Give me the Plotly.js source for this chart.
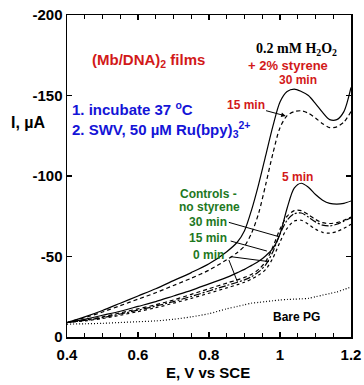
<!DOCTYPE html>
<html>
<head>
<meta charset="utf-8">
<script src="https://cdn.plot.ly/plotly-3.0.1.min.js"></script>
<style>html,body{margin:0;padding:0;background:#fff;}#chart{width:364px;height:385px;}</style>
</head>
<body>
<div id="chart"></div>
<script>
// Potential, V vs SCE
const potential = [0.40,0.45,0.50,0.55,0.60,0.65,0.70,0.75,0.80,0.85,0.88,0.90,0.92,0.94,0.96,0.98,1.00,1.02,1.04,1.06,1.08,1.10,1.12,1.14,1.16,1.18,1.20];
// Currents, µA
const styrene30 = [-9,-12.5,-16.5,-21,-25.5,-30,-35,-40,-45.5,-53,-59,-66,-79,-95,-113,-131,-146,-152.5,-154,-152.5,-150,-145,-139.5,-135,-135,-140,-155];
const styrene15 = [-9,-12,-15.5,-19.5,-23.5,-27.5,-32,-36.5,-41.5,-48,-52.5,-56.5,-64.5,-77,-95,-114,-130,-137.5,-140,-140.5,-139,-136,-132.5,-130,-130.5,-133.5,-140];
const styrene5 = [-9,-11,-13.5,-16,-19,-22,-25.5,-29,-33,-37,-40,-42,-44.5,-47,-50.5,-55,-64,-80,-92.5,-95.5,-93,-88.5,-85,-83,-82.5,-83,-84.5];
const control30 = [-9,-10.5,-12.5,-15,-17.5,-20,-23,-26.5,-30,-33.5,-35.5,-37,-39,-42,-47,-56,-67,-75,-78.5,-78.5,-76,-73,-71,-70.5,-71,-72.5,-74.5];
const control15 = [-9,-10.3,-12,-14.3,-16.7,-19.2,-22,-25.2,-28.6,-32,-34,-35.5,-37.5,-40.5,-45,-53,-64,-72.5,-76.5,-77,-74.5,-71.5,-69.5,-69,-70,-72,-74];
const control0 = [-9,-10,-11.5,-13.5,-15.8,-18.2,-21,-24,-27.2,-30.5,-32.5,-34,-36,-38.5,-42,-49,-59,-67.5,-72,-72.5,-70,-67,-65,-64.5,-65.5,-67.5,-70];
const barePG = [-8,-8.2,-8.5,-9,-9.5,-10,-11,-12.5,-14.5,-17.5,-19,-20,-21,-21.5,-22,-22.5,-23,-23.3,-23.5,-23.7,-24,-25,-26,-27,-28,-29.5,-31];

const xTickVals = [0.4,0.6,0.8,1.0,1.2];
const xTickText = ['0.4','0.6','0.8','1','1.2'];
const yTickVals = [0,-50,-100,-150,-200];
const yTickText = ['0','-50','-100','-150','-200'];

// leader lines for control labels [x0,y0,x1,y1]
const leaders = [
  [0.856,-71.2,0.997,-62.3],
  [0.861,-59.6,0.963,-53.4],
  [0.861,-49.9,0.969,-46.8],
  [0.856,-47.8,0.880,-34.3]
];

const FONT = 'Liberation Sans, Arial, sans-serif';
const RED = 'rgb(210,25,25)';
const BLUE = 'rgb(20,20,215)';
const GREEN = 'rgb(30,120,30)';

function tr(y, dash){
  return {x: potential, y: y, type:'scatter', mode:'lines',
    line:{color:'black', width:1.2, dash:dash, shape:'spline', smoothing:0.8},
    hoverinfo:'skip', showlegend:false};
}
const data = [
  tr(styrene30,'solid'),
  tr(styrene15,'4px,3px'),
  tr(styrene5,'solid'),
  tr(control30,'4px,3px'),
  tr(control15,'7px,2px,2px,2px'),
  tr(control0,'3px,3px'),
  tr(barePG,'1px,2px')
];

function txt(x,y,text,color,size,opts){
  return Object.assign({x:x,y:y,xref:'x',yref:'y',text:text,showarrow:false,
    font:{family:FONT,size:size,color:color},xanchor:'center',yanchor:'middle'},opts||{});
}
const annotations = [
  txt(0.629,-172,'<b>(Mb/DNA)<sub>2</sub> films</b>',RED,15),
  txt(0.408,-142.2,'<b>1. incubate 37 <sup>o</sup>C</b>',BLUE,15,{xanchor:'left'}),
  txt(0.408,-128.6,'<b>2. SWV, 50 µM Ru(bpy)<sub>3</sub><sup>2+</sup></b>',BLUE,15,{xanchor:'left'}),
  txt(1.047,-178.5,'<b>0.2 mM H<sub>2</sub>O<sub>2</sub></b>','black',14,{font:{family:'Liberation Serif, Times New Roman, serif',size:14,color:'black'}}),
  txt(1.022,-168.5,'<b>+ 2% styrene</b>',RED,13),
  txt(1.05,-159.6,'<b>30 min</b>',RED,12),
  txt(1.05,-99.4,'<b>5 min</b>',RED,12),
  txt(0.799,-88.8,'<b>Controls -</b>',GREEN,12),
  txt(0.801,-80.7,'<b>no styrene</b>',GREEN,12),
  txt(0.796,-71.4,'<b>30 min</b>',GREEN,12),
  txt(0.796,-61.5,'<b>15 min</b>',GREEN,12),
  txt(0.799,-50.9,'<b>0 min</b>',GREEN,12),
  txt(1.047,-12.4,'<b>Bare PG</b>','black',12),
  {x:1.016,y:-137.3,xref:'x',yref:'y',ax:0.903,ay:-144,axref:'x',ayref:'y',
   text:'<b>15 min</b>',showarrow:true,arrowhead:2,arrowsize:0.9,arrowwidth:1,arrowcolor:'black',
   font:{family:FONT,size:12,color:RED}},
  {x:-0.134,y:0.665,xref:'paper',yref:'paper',text:'<b>I, µA</b>',showarrow:false,
   font:{family:FONT,size:16,color:'black'},xanchor:'center',yanchor:'middle'},
  {x:0.496,y:-0.109,xref:'paper',yref:'paper',text:'<b>E, V vs SCE</b>',showarrow:false,
   font:{family:FONT,size:15,color:'black'},xanchor:'center',yanchor:'middle'}
];

const shapes = leaders.map(l => ({type:'line',xref:'x',yref:'y',x0:l[0],y0:l[1],x1:l[2],y1:l[3],
  line:{color:'black',width:1}}));

const layout = {
  width:364, height:385,
  margin:{l:67,r:13,t:15,b:48},
  paper_bgcolor:'white', plot_bgcolor:'white',
  showlegend:false,
  xaxis:{range:[0.4,1.2], tickvals:xTickVals, ticktext:xTickText, ticks:'inside', ticklen:5, tickwidth:1.2,
    tickcolor:'black', showline:true, linecolor:'black', linewidth:1.5, mirror:'ticks',
    showgrid:false, zeroline:false, ticklabelstandoff:3,
    minor:{dtick:0.05, tick0:0.4, ticks:'inside', ticklen:4, tickwidth:1.2, tickcolor:'black', showgrid:false},
    tickfont:{family:FONT,size:15,color:'black',weight:'bold'}},
  yaxis:{range:[0,-200], tickvals:yTickVals, ticktext:yTickText, ticks:'inside', ticklen:5, tickwidth:1.2,
    tickcolor:'black', showline:true, linecolor:'black', linewidth:1.5, mirror:'ticks',
    showgrid:false, zeroline:false,
    tickfont:{family:FONT,size:15,color:'black',weight:'bold'}},
  annotations:annotations,
  shapes:shapes
};
Plotly.newPlot('chart', data, layout, {staticPlot:true, displayModeBar:false});
</script>
</body>
</html>
